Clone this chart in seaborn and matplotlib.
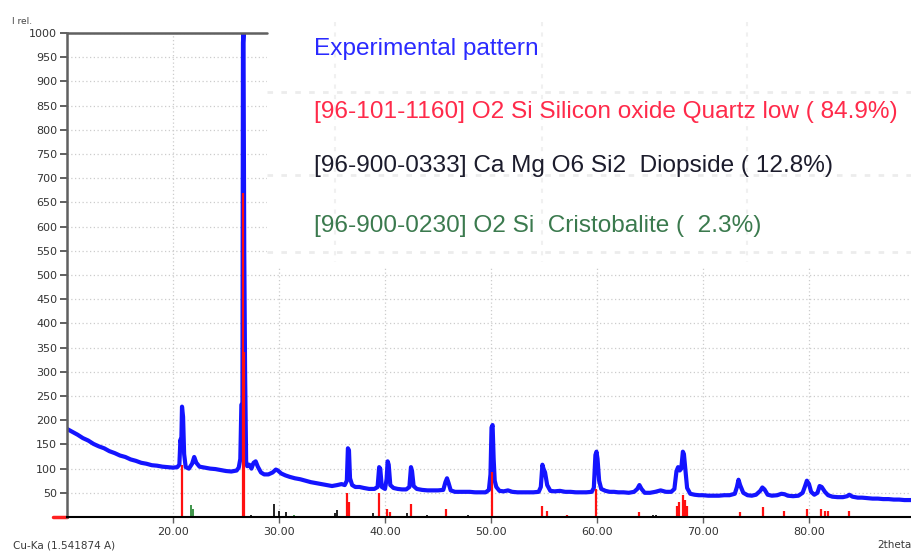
import numpy as np
import pandas as pd
import matplotlib
matplotlib.use("Agg")
import matplotlib.pyplot as plt
import seaborn as sns
from matplotlib import font_manager as fm
from matplotlib.patches import Rectangle
from matplotlib.lines import Line2D

# ---------------- data ----------------
exp_2theta = [10.0, 10.5, 11.0, 11.5, 12.0, 12.5, 13.0, 13.5, 14.0, 14.5, 15.0, 15.5, 16.0, 16.5,
              17.0, 17.5, 18.0, 18.5, 19.0, 19.5, 20.0, 20.4, 20.6, 20.7, 20.78, 20.85, 20.95,
              21.05, 21.2, 21.5, 21.8, 22.0, 22.2, 22.5, 23.0, 23.5, 24.0, 24.5, 25.0, 25.5,
              26.0, 26.2, 26.35, 26.45, 26.55, 26.6, 26.65, 26.72, 26.8, 26.9, 27.0, 27.2,
              27.4, 27.6, 27.8, 28.0, 28.3, 28.6, 29.0, 29.4, 29.7, 29.9, 30.2, 30.6, 31.0,
              31.5, 32.0, 32.5, 33.0, 33.5, 34.0, 34.5, 35.0, 35.5, 35.9, 36.2, 36.4, 36.5,
              36.6, 36.7, 36.9, 37.2, 37.6, 38.0, 38.5, 39.0, 39.3, 39.45, 39.55, 39.7, 40.0,
              40.15, 40.25, 40.35, 40.5, 40.8, 41.2, 41.6, 42.0, 42.3, 42.45, 42.55, 42.7,
              43.0, 43.5, 44.0, 44.5, 45.0, 45.5, 45.7, 45.85, 46.0, 46.2, 46.6, 47.0, 47.5,
              48.0, 48.5, 49.0, 49.5, 49.8, 49.95, 50.05, 50.15, 50.25, 50.35, 50.5, 50.8,
              51.2, 51.6, 52.0, 52.5, 53.0, 53.5, 54.0, 54.5, 54.7, 54.85, 54.95, 55.1, 55.3,
              55.6, 56.0, 56.5, 57.0, 57.5, 58.0, 58.5, 59.0, 59.5, 59.7, 59.85, 59.95, 60.05,
              60.2, 60.4, 60.8, 61.2, 61.6, 62.0, 62.5, 63.0, 63.5, 63.8, 64.0, 64.2, 64.5,
              65.0, 65.5, 66.0, 66.5, 67.0, 67.3, 67.5, 67.65, 67.8, 67.95, 68.1, 68.2, 68.35,
              68.5, 68.8, 69.2, 69.6, 70.0, 70.5, 71.0, 71.5, 72.0, 72.5, 73.0, 73.2, 73.35,
              73.5, 73.8, 74.2, 74.6, 75.0, 75.4, 75.6, 75.8, 76.1, 76.5, 77.0, 77.4, 77.7,
              78.0, 78.5, 79.0, 79.4, 79.6, 79.8, 80.0, 80.2, 80.5, 80.8, 81.0, 81.2, 81.5,
              81.8, 82.2, 82.7, 83.2, 83.6, 83.8, 84.1, 84.6, 85.0, 85.5, 86.0, 86.5, 87.0,
              87.5, 88.0, 88.5, 89.0, 89.5, 90.0]
exp_intensity = [182, 176, 170, 163, 158, 151, 146, 142, 136, 132, 127, 124, 119, 116,
                 112, 110, 107, 106, 104, 103, 102, 103, 108, 160, 150, 228, 207,
                 130, 103, 100, 110, 124, 112, 104, 102, 100, 99, 97, 95, 94,
                 96, 102, 120, 232, 230, 980, 1000, 550, 300, 115, 105, 108,
                 100, 112, 115, 104, 92, 88, 88, 92, 98, 96, 90, 86, 83,
                 80, 78, 75, 72, 70, 68, 66, 64, 66, 68, 66, 75, 142,
                 138, 80, 66, 62, 62, 60, 58, 58, 62, 103, 100, 62, 58,
                 78, 115, 108, 66, 60, 58, 57, 57, 62, 103, 95, 64,
                 58, 56, 55, 55, 55, 56, 72, 80, 70, 55, 52, 52, 52,
                 52, 51, 51, 51, 56, 88, 185, 190, 120, 75, 62, 54,
                 53, 55, 52, 51, 51, 51, 51, 52, 62, 108, 100, 92, 66,
                 54, 53, 54, 52, 52, 51, 51, 51, 52, 60, 128, 135, 120,
                 75, 58, 54, 52, 52, 51, 51, 50, 52, 58, 66, 58, 50,
                 50, 52, 55, 52, 52, 58, 95, 103, 96, 100, 135, 130, 96,
                 60, 48, 46, 45, 45, 44, 44, 44, 45, 45, 48, 62, 77,
                 66, 50, 45, 44, 46, 54, 61, 57, 46, 44, 45, 48, 47,
                 44, 43, 44, 50, 62, 75, 68, 52, 46, 50, 64, 62, 52,
                 45, 42, 41, 41, 43, 46, 42, 40, 40, 39, 38, 38, 37,
                 37, 36, 36, 35, 35, 35]

quartz_2theta = [20.85, 26.58, 26.68, 36.45, 36.6, 39.45, 40.22, 40.5, 42.45, 45.78, 50.12,
                 54.85, 55.3, 57.2, 59.95, 64.0, 67.55, 67.7, 68.12, 68.3, 68.45, 73.45,
                 75.65, 77.65, 79.85, 81.15, 81.5, 81.75, 83.8]
quartz_height = [107, 670, 340, 49, 30, 49, 16, 10, 26, 16, 92,
                 23, 12, 5, 58, 10, 22, 30, 45, 35, 22, 11,
                 20, 13, 16, 16, 13, 12, 13]

diopside_2theta = [27.4, 29.56, 30.0, 30.7, 35.3, 35.5, 38.9, 42.1, 44.0, 47.8, 57.5, 65.3,
                   65.6, 71.0]
diopside_height = [5, 27, 12, 10, 8, 14, 8, 8, 5, 4, 3, 5, 4, 3]

cristobalite_2theta = [21.7, 21.85, 28.5, 31.4, 36.1, 38.4, 42.7, 44.9, 48.6, 57.0, 62.1,
                       65.0, 69.8, 72.5, 79.4, 86.3]
cristobalite_height = [25, 16, 3, 4, 3, 2, 2, 3, 3, 2, 2, 2, 2, 2, 2, 2]

y_ticks = list(range(50, 1001, 50))
x_ticks = [20, 30, 40, 50, 60, 70, 80]
x_tick_labels = ["20.00", "30.00", "40.00", "50.00", "60.00", "70.00", "80.00"]

legend_texts = ["Experimental pattern",
                "[96-101-1160] O2 Si Silicon oxide Quartz low ( 84.9%)",
                "[96-900-0333] Ca Mg O6 Si2  Diopside ( 12.8%)",
                "[96-900-0230] O2 Si  Cristobalite (  2.3%)"]

# ---------------- style ----------------
sns.set_theme(style="white")
plt.rcParams['font.family'] = ['DejaVu Sans']

names = {f.name for f in fm.fontManager.ttflist}
if 'Liberation Sans Narrow' in names:
    leg_family, leg_size = 'Liberation Sans Narrow', 21
else:
    leg_family, leg_size = 'Liberation Sans', 17.6

W, H = 912, 552
fig = plt.figure(figsize=(W / 100, H / 100), dpi=100)
ax = fig.add_axes([67 / W, 1 - 517 / H, 848 / W, 484 / H])

df = pd.DataFrame({"two_theta": exp_2theta, "I": exp_intensity})
sns.lineplot(data=df, x="two_theta", y="I", ax=ax, color="#1414ff", lw=3.0,
             estimator=None, sort=False, zorder=3)

ax.vlines(quartz_2theta, 0, quartz_height, colors="#ff1010", lw=1.6, zorder=4)
ax.vlines(diopside_2theta, 0, diopside_height, colors="#111111", lw=1.3, zorder=4)
ax.vlines(cristobalite_2theta, 0, cristobalite_height, colors="#2e8b3a", lw=1.3, zorder=4)

ax.set_xlim(10, 90)
ax.set_ylim(0, 1000)
ax.set_xlabel("")
ax.set_ylabel("")
ax.set_yticks(y_ticks)
ax.set_yticklabels([str(v) for v in y_ticks])
ax.set_xticks(x_ticks)
ax.set_xticklabels(x_tick_labels)
ax.tick_params(axis='y', direction='out', length=5, width=1.4, color='#606060',
               labelsize=8, labelcolor='#333333', pad=2, left=True)
ax.tick_params(axis='x', direction='out', length=4, width=1.0, color='#606060',
               labelsize=8, labelcolor='#333333', pad=3, bottom=True)

ax.set_axisbelow(True)
ax.grid(True, color='#cccccc', ls=(0, (1, 2)), lw=0.9)

for s in ['top', 'right']:
    ax.spines[s].set_visible(False)
ax.spines['left'].set_color('#606060')
ax.spines['left'].set_linewidth(1.8)
ax.spines['bottom'].set_color('#000000')
ax.spines['bottom'].set_linewidth(1.5)
ax.spines['left'].set_zorder(6)
ax.spines['bottom'].set_zorder(6)

# partial top frame line
box_left = (267 - 67) / 848
ax.axhline(1000, xmin=0, xmax=box_left, color='#606060', lw=1.8, clip_on=False, zorder=6)
# small red dash left of origin
ax.add_line(Line2D([-14 / 848, 0], [0, 0], transform=ax.transAxes, color='#ff2020',
                   lw=2.5, clip_on=False, zorder=6))

# white legend panel
box_bottom = (517 - 268) / 484
ax.add_patch(Rectangle((box_left, box_bottom), 1.2, 1.0, transform=ax.transAxes,
                       facecolor='white', edgecolor='none', zorder=1.5, clip_on=False))
for yp in [92, 175, 252]:
    fig.add_artist(Line2D([267 / W, 1.0], [1 - yp / H, 1 - yp / H], transform=fig.transFigure,
                          color='#ececec', lw=2.0, ls=(0, (2, 3)), zorder=2))
for xp in [335, 542, 747]:
    fig.add_artist(Line2D([xp / W, xp / W], [1 - 22 / H, 1 - 262 / H], transform=fig.transFigure,
                          color='#f0f0f0', lw=1.5, ls=(0, (2, 3)), zorder=2))

leg_colors = ["#2a2aff", "#ff2a4a", "#1c1c2c", "#3b7a4e"]
leg_baselines = [55, 118, 172, 232]
for txt, col, yb in zip(legend_texts, leg_colors, leg_baselines):
    fig.text(314 / W, 1 - yb / H, txt, color=col, fontsize=leg_size, family=leg_family,
             ha='left', va='baseline', zorder=10)

fig.text(12 / W, 1 - 21 / H, "I rel.", fontsize=6.5, color='#444444', ha='left', va='center')
fig.text(13 / W, 1 - 546 / H, "Cu-Ka (1.541874 A)", fontsize=7.5, color='#3a3a3a',
         ha='left', va='center')
fig.text(877 / W, 1 - 545 / H, "2theta", fontsize=7.5, color='#3a3a3a', ha='left', va='center')

fig.savefig("out.png", dpi=100)
